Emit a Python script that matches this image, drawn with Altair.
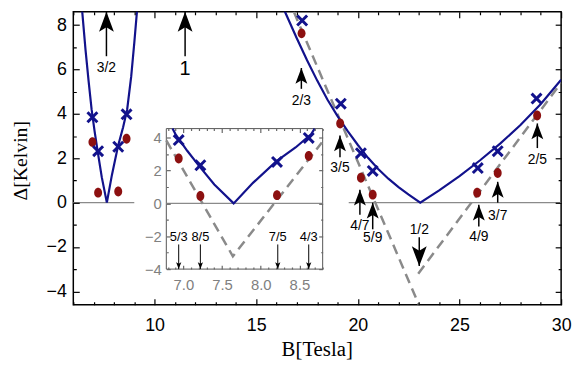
import altair as alt
import pandas as pd

# ---------------- axis ranges and ticks ----------------
x_domain = [6, 30]
y_domain = [-4.6, 8.6]
x_ticks = list(range(6, 31))
y_ticks = list(range(-4, 9))

inset_x_domain = [6.78, 8.8]
inset_y_domain = [-4.0, 4.55]
inset_x_ticks = [6.8, 6.9, 7.0, 7.1, 7.2, 7.3, 7.4, 7.5, 7.6, 7.7, 7.8, 7.9,
                 8.0, 8.1, 8.2, 8.3, 8.4, 8.5, 8.6, 8.7, 8.8]
inset_y_ticks = [-4, -3, -2, -1, 0, 1, 2, 3, 4]

# ---------------- measured gaps ----------------
cross_B = [6.94, 7.22, 8.21, 8.62, 17.26, 19.16, 20.15, 20.73, 25.9, 26.88, 28.79]
cross_D = [3.85, 2.32, 2.52, 3.98, 8.21, 4.46, 2.23, 1.43, 1.56, 2.32, 4.69]
dot_B = [6.94, 7.22, 8.21, 8.62, 17.23, 19.13, 20.15, 20.73, 25.87, 26.88, 28.82]
dot_D = [2.73, 0.45, 0.50, 2.88, 7.63, 3.57, 1.12, 0.36, 0.45, 1.34, 3.93]

# ---------------- theory curves (solid blue) ----------------
curve32_B = [6.36, 6.44, 6.6, 6.75, 6.9, 7.05, 7.2, 7.4, 7.65, 7.9, 8.2, 8.45, 8.65, 8.85, 9.0, 9.13, 9.2]
curve32_D = [9.6, 8.6, 6.9, 5.5, 4.2, 3.2, 2.3, 1.15, 0.0, 1.25, 2.55, 3.4, 4.2, 5.7, 7.2, 8.6, 9.5]
curve12_B = [16.2, 16.44, 17.0, 17.5, 18.0, 18.5, 19.0, 19.5, 20.0, 20.5, 21.0, 21.5, 22.0, 22.5,
             23.07, 24.0, 25.0, 26.0, 27.0, 28.0, 29.0, 30.0]
curve12_D = [9.05, 8.55, 7.4, 6.42, 5.5, 4.65, 3.9, 3.22, 2.6, 2.02, 1.52, 1.08, 0.7, 0.36,
             0.0, 0.55, 1.2, 1.9, 2.66, 3.5, 4.45, 5.54]
inset_curve_B = [6.86, 6.9, 7.05, 7.2, 7.4, 7.65, 7.9, 8.2, 8.45, 8.65, 8.697]
inset_curve_D = [4.55, 4.2, 3.2, 2.3, 1.15, 0.0, 1.25, 2.55, 3.4, 4.2, 4.55]

# ---------------- dashed lines ----------------
dash_main_B = [16.85, 23.0, 22.97, 30.0]
dash_main_D = [8.6, -4.6, -3.2, 5.4]
dash_main_seg = [0, 0, 1, 1]
dash_inset_B = [6.78, 7.64, 8.79]
dash_inset_D = [3.83, -3.22, 3.7]

# ---------------- zero lines ----------------
zero_main_B = [6.0, 9.0, 19.55, 30.0]
zero_main_seg = [0, 0, 1, 1]
zero_inset_B = [6.78, 8.8]

# ---------------- arrows ----------------
arrow_label = ["3/2", "1", "2/3", "3/5", "4/7", "5/9", "1/2", "4/9", "3/7", "2/5"]
arrow_B = [7.63, 11.5, 17.22, 19.12, 20.1, 20.73, 23.02, 25.95, 26.88, 28.83]
arrow_tip = [8.6, 8.6, 6.07, 3.03, 0.58, 0.0, -2.86, -0.09, 0.94, 3.57]
arrow_tail = [6.6, 6.6, 5.13, 2.05, -0.54, -1.2, -1.56, -1.07, 0.0, 2.46]
arrow_text_D = [6.07, 6.03, 4.6, 1.56, -1.07, -1.6, -1.25, -1.56, -0.62, 1.92]
arrow_dir = ["up", "up", "up", "up", "up", "up", "down", "up", "up", "up"]
arrow_head = [20, 20, 16, 16, 16, 16, 20, 16, 16, 16]
arrow_font = [14, 20, 14, 14, 14, 14, 14, 14, 14, 14]

inset_arrow_label = ["5/3", "8/5", "7/5", "4/3"]
inset_arrow_B = [6.94, 7.22, 8.22, 8.62]
inset_arrow_tip = [-4.0, -4.0, -4.0, -4.0]
inset_arrow_tail = [-2.5, -2.5, -2.5, -2.5]
inset_arrow_text_D = [-2.02, -2.02, -2.02, -2.02]

# ---------------- styles ----------------
NAVY = "#12128c"
RED = "#8c1010"
GRAY = "#8a8a8a"
SANS = "Liberation Sans"
SERIF = "Liberation Serif"
W, H = 493, 296
INSET_X_PX = [94, 252]
INSET_Y_PX = [260, 118]

UP = "M0,0L0.75,2L0,1.55L-0.75,2Z"
DOWN = "M0,0L0.75,-2L0,-1.55L-0.75,-2Z"
CROSS = "M-1,-1L1,1M-1,1L1,-1"
ELLIPSE = "M0,-1A0.8,1,0,1,1,0,1A0.8,1,0,1,1,0,-1Z"

xs = alt.Scale(domain=x_domain, nice=False, zero=False)
ys = alt.Scale(domain=y_domain, nice=False, zero=False)
ixs = alt.Scale(domain=inset_x_domain, range=INSET_X_PX, nice=False, zero=False)
iys = alt.Scale(domain=inset_y_domain, range=INSET_Y_PX, nice=False, zero=False)


def minor_dash(test, visible, total):
    return {"condition": {"test": test, "value": [0, total - visible, visible]},
            "value": [total, 0]}


def make_axis(orient, values, offset, tick, test, visible, color, **kw):
    a = dict(orient=orient, values=values, offset=offset, tickSize=tick, tickWidth=1.2,
             tickColor=color, tickDash=minor_dash(test, visible, tick), domain=False,
             grid=False, labels=False, title=None, zindex=1)
    a.update(kw)
    return alt.Axis(**a)


X_MINOR = "datum.value % 5 !== 0"
Y_MINOR = "datum.value % 2 !== 0"
IX_MINOR = "abs(datum.value*2 - round(datum.value*2)) > 0.001"

ax_bottom = make_axis("bottom", x_ticks, -6, 6, X_MINOR, 3, "black",
                      labels=True, format="d",
                      labelExpr="datum.value % 5 === 0 ? datum.label : ''",
                      labelFont=SANS, labelFontSize=18, labelColor="black",
                      labelPadding=12, labelFlush=False, labelOverlap=False,
                      title="B[Tesla]", titleFont=SERIF, titleFontSize=21,
                      titleFontWeight="normal", titleColor="black", titleX=246,
                      titleY=51, titleBaseline="middle", titleAlign="center", titleAngle=0)
ax_left = make_axis("left", y_ticks, -6, 6, Y_MINOR, 3, "black",
                    labels=True, format="d",
                    labelExpr="datum.value % 2 === 0 ? datum.label : ''",
                    labelFont=SANS, labelFontSize=18, labelColor="black",
                    labelPadding=7, labelFlush=False, labelOverlap=False,
                    title="Δ[Kelvin]", titleFont=SERIF, titleFontSize=20,
                    titleFontWeight="normal", titleColor="black", titleX=-59,
                    titleY=150, titleBaseline="middle", titleAlign="center", titleAngle=270)
ax_top = make_axis("top", x_ticks, -6, 6, X_MINOR, 3, "black")
ax_right = make_axis("right", y_ticks, -6, 6, Y_MINOR, 3, "black")

ICOL = "#666666"
iax_bottom = make_axis("bottom", inset_x_ticks, INSET_Y_PX[0] - 4 - H, 4, IX_MINOR, 2, ICOL,
                       labels=True, format=".1f",
                       labelExpr="abs(datum.value*2 - round(datum.value*2)) < 0.001 ? datum.label : ''",
                       labelFont=SANS, labelFontSize=15, labelColor="#808080",
                       labelPadding=9, labelFlush=False, labelOverlap=False)
iax_left = make_axis("left", inset_y_ticks, -(INSET_X_PX[0] + 4), 4, Y_MINOR, 2, ICOL,
                     labels=True, format="d",
                     labelExpr="datum.value % 2 === 0 ? datum.label : ''",
                     labelFont=SANS, labelFontSize=15, labelColor="#808080",
                     labelPadding=5, labelFlush=False, labelOverlap=False)
iax_top = make_axis("top", inset_x_ticks, -(INSET_Y_PX[1] + 4), 4, IX_MINOR, 2, ICOL)
iax_right = make_axis("right", inset_y_ticks, INSET_X_PX[1] - 4 - W, 4, Y_MINOR, 2, ICOL)


def enc(xscale, yscale, xaxis=None, yaxis=None, xf="B", yf="D"):
    return dict(x=alt.X(f"{xf}:Q", scale=xscale, axis=xaxis),
                y=alt.Y(f"{yf}:Q", scale=yscale, axis=yaxis))


# ---------------- data tables ----------------
zero_main = pd.DataFrame({"B": zero_main_B, "D": [0.0] * 4, "seg": zero_main_seg})
zero_inset = pd.DataFrame({"B": zero_inset_B, "D": [0.0, 0.0]})
dash_main = pd.DataFrame({"B": dash_main_B, "D": dash_main_D, "seg": dash_main_seg})
dash_inset = pd.DataFrame({"B": dash_inset_B, "D": dash_inset_D})
curves = pd.concat([
    pd.DataFrame({"B": curve32_B, "D": curve32_D, "c": "a"}),
    pd.DataFrame({"B": curve12_B, "D": curve12_D, "c": "b"}),
])
icurve = pd.DataFrame({"B": inset_curve_B, "D": inset_curve_D})
crosses = pd.DataFrame({"B": cross_B, "D": cross_D})
dots = pd.DataFrame({"B": dot_B, "D": dot_D})
arrows = pd.DataFrame({"B": arrow_B, "tip": arrow_tip, "tail": arrow_tail,
                       "D": arrow_text_D, "label": arrow_label, "dir": arrow_dir,
                       "hs": [h * h for h in arrow_head], "fs": arrow_font})
iarrows = pd.DataFrame({"B": inset_arrow_B, "tip": inset_arrow_tip,
                        "tail": inset_arrow_tail, "D": inset_arrow_text_D,
                        "label": inset_arrow_label})
frame = pd.DataFrame({"x0": [inset_x_domain[0]], "x1": [inset_x_domain[1]],
                      "y0": [inset_y_domain[0]], "y1": [inset_y_domain[1]]})

shape_scale = alt.Scale(domain=["up", "down"], range=[UP, DOWN])

# ---------------- main panel ----------------
m_zero = alt.Chart(zero_main).mark_line(color=GRAY, strokeWidth=1.3).encode(
    detail="seg:N", **enc(xs, ys))
m_dash = alt.Chart(dash_main).mark_line(color=GRAY, strokeWidth=2.5, strokeDash=[10, 6],
                                        clip=True).encode(
    detail="seg:N", **enc(xs, ys, ax_top, ax_right))
m_curve = alt.Chart(curves).mark_line(color=NAVY, strokeWidth=2.2, clip=True).encode(
    detail="c:N", **enc(xs, ys, ax_bottom, ax_left))
m_dots = alt.Chart(dots).mark_point(shape=ELLIPSE, filled=True, color=RED, size=100,
                                    opacity=1, strokeWidth=0).encode(**enc(xs, ys))
m_cross = alt.Chart(crosses).mark_point(shape=CROSS, filled=False, color=NAVY, size=100,
                                        opacity=1, strokeWidth=3).encode(**enc(xs, ys))
m_shaft = alt.Chart(arrows).mark_rule(color="black", strokeWidth=1.5).encode(
    x=alt.X("B:Q", scale=xs, axis=None),
    y=alt.Y("tail:Q", scale=ys, axis=None),
    y2="tip:Q")
m_head = alt.Chart(arrows).mark_point(filled=True, color="black", opacity=1,
                                      strokeWidth=0).encode(
    x=alt.X("B:Q", scale=xs, axis=None),
    y=alt.Y("tip:Q", scale=ys, axis=None),
    shape=alt.Shape("dir:N", scale=shape_scale, legend=None),
    size=alt.Size("hs:Q", scale=None, legend=None))
m_text = alt.Chart(arrows).mark_text(font=SANS, color="black", baseline="middle",
                                     align="center").encode(
    text="label:N", size=alt.Size("fs:Q", scale=None, legend=None), **enc(xs, ys))

main = alt.layer(m_zero, m_dash, m_curve, m_dots, m_cross, m_shaft, m_head, m_text)

# ---------------- inset panel ----------------
i_bg = alt.Chart(frame).mark_rect(fill="white", stroke="#555555", strokeWidth=1).encode(
    x=alt.X("x0:Q", scale=ixs, axis=iax_bottom), x2="x1:Q",
    y=alt.Y("y0:Q", scale=iys, axis=iax_left), y2="y1:Q")
i_zero = alt.Chart(zero_inset).mark_line(color=GRAY, strokeWidth=1.3).encode(
    **enc(ixs, iys, iax_top, iax_right))
i_dash = alt.Chart(dash_inset).mark_line(color=GRAY, strokeWidth=2.5,
                                         strokeDash=[10, 6]).encode(**enc(ixs, iys))
i_curve = alt.Chart(icurve).mark_line(color=NAVY, strokeWidth=2.2).encode(**enc(ixs, iys))
i_dots = alt.Chart(dots.iloc[:4]).mark_point(shape=ELLIPSE, filled=True, color=RED,
                                             size=100, opacity=1,
                                             strokeWidth=0).encode(**enc(ixs, iys))
i_cross = alt.Chart(crosses.iloc[:4]).mark_point(shape=CROSS, filled=False, color=NAVY,
                                                 size=100, opacity=1,
                                                 strokeWidth=3).encode(**enc(ixs, iys))
i_shaft = alt.Chart(iarrows).mark_rule(color="black", strokeWidth=1).encode(
    x=alt.X("B:Q", scale=ixs, axis=None),
    y=alt.Y("tail:Q", scale=iys, axis=None),
    y2="tip:Q")
i_head = alt.Chart(iarrows).mark_point(filled=True, color="black", opacity=1,
                                       strokeWidth=0, shape=DOWN, size=49).encode(
    x=alt.X("B:Q", scale=ixs, axis=None),
    y=alt.Y("tip:Q", scale=iys, axis=None))
i_text = alt.Chart(iarrows).mark_text(font=SANS, fontSize=13, color="black",
                                      baseline="middle", align="center").encode(
    text="label:N", **enc(ixs, iys))

inset = alt.layer(i_bg, i_zero, i_dash, i_curve, i_dots, i_cross, i_shaft, i_head, i_text)

chart = alt.layer(main, inset).resolve_scale(
    x="independent", y="independent"
).properties(
    width=W, height=H,
    autosize=alt.AutoSizeParams(type="none"),
    padding={"left": 66, "top": 2, "right": 12, "bottom": 56},
).configure_view(stroke="black", strokeWidth=1.5)

chart.save("out.html", embed_options={"renderer": "svg", "actions": False})
